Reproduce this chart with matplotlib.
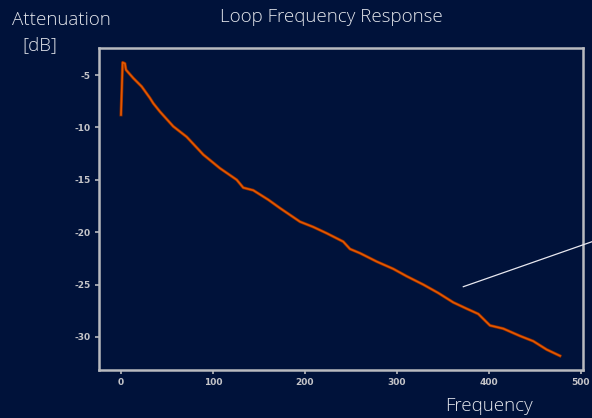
import matplotlib
matplotlib.use("Agg")
import matplotlib.pyplot as plt
import matplotlib.patheffects as pe
from matplotlib.lines import Line2D

freq = [0, 1.8, 4.3, 5.4, 13.4, 22.5, 31.5, 35.1, 42.4, 56.8, 71.4, 89.5, 107.6,
        125.8, 132.9, 143.8, 160.1, 172.8, 194.6, 209, 223.6, 241.6, 248.9, 259.8,
        277.9, 296, 310.5, 328.6, 344.9, 361.2, 375.8, 388.4, 401.1, 415.5, 433.7,
        448.2, 462.7, 477.2]
atten = [-8.8, -3.8, -3.9, -4.5, -5.3, -6.1, -7.2, -7.7, -8.5, -9.9, -10.9, -12.6, -13.9,
         -15.0, -15.75, -16.0, -16.9, -17.7, -19.0, -19.5, -20.1, -20.9, -21.6, -22.0,
         -22.8, -23.5, -24.2, -25.0, -25.8, -26.7, -27.3, -27.8, -28.9, -29.2, -29.9,
         -30.4, -31.2, -31.8]
xticks = [0, 100, 200, 300, 400, 500]
yticks = [-5, -10, -15, -20, -25, -30]

bg = "#00123a"
frame = "#b8babf"
txt = "#e4e6ec"

fig = plt.figure(figsize=(5.92, 4.18), dpi=100, facecolor=bg)
ax = fig.add_axes([99/592, 1-370/418, (583-99)/592, (370-48)/418])
ax.set_facecolor(bg)

ax.plot(freq, atten, color="#e35800", lw=1.2, solid_joinstyle="round",
        path_effects=[pe.Stroke(linewidth=2.2, foreground="#8a2a00"), pe.Normal()])

ax.set_xlim(-23.9, 502.2)
ax.set_ylim(-33.15, -2.42)
ax.set_xticks(xticks)
ax.set_yticks(yticks)
ax.set_xticklabels([str(v) for v in xticks])
ax.set_yticklabels([str(v) for v in yticks])
for s in ax.spines.values():
    s.set_color(frame)
    s.set_linewidth(1.8)
ax.tick_params(colors=frame, labelcolor="#c4c4c8", labelsize=6.5, length=3, width=1.2,
               direction="out", pad=3)
for lab in ax.get_xticklabels() + ax.get_yticklabels():
    lab.set_fontweight("bold")

fs = 13.5
fig.text(331/592, 1-17/418, "Loop Frequency Response", ha="center", va="center",
         color=txt, fontsize=fs, family="Open Sans", fontweight="light")
fig.text(61/592, 1-20/418, "Attenuation", ha="center", va="center",
         color=txt, fontsize=fs, family="Open Sans", fontweight="light")
fig.text(40/592, 1-45/418, "[dB]", ha="center", va="center",
         color=txt, fontsize=fs, family="Open Sans", fontweight="light")
fig.text(489/592, 1-406/418, "Frequency", ha="center", va="center",
         color=txt, fontsize=fs, family="Open Sans", fontweight="light")

fig.add_artist(Line2D([463.3/592, 592/592], [1-286.7/418, 1-241.7/418],
                      transform=fig.transFigure, color="#e8e8f0", lw=0.9))

fig.savefig("out.png", dpi=100, facecolor=bg)
